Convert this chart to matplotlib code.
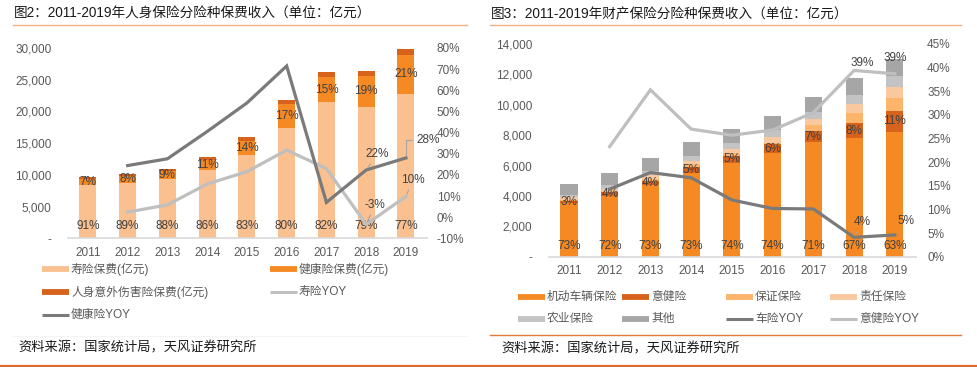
import matplotlib
matplotlib.use('Agg')
import matplotlib.pyplot as plt
from matplotlib.lines import Line2D
from matplotlib.ticker import FuncFormatter
import numpy as np

plt.rcParams['font.family'] = ['Liberation Sans', 'Noto Sans CJK SC', 'DejaVu Sans']

years = ['2011', '2012', '2013', '2014', '2015', '2016', '2017', '2018', '2019']

# 图2 人身保险（亿元）
life_prem = [8400, 8750, 9400, 10800, 13200, 17400, 21430, 20700, 22750]
health_prem = [950, 1100, 1250, 1620, 2170, 3760, 4040, 4930, 6200]
accident_prem = [390, 250, 250, 420, 630, 630, 730, 790, 840]
life_share = ['91%', '89%', '88%', '86%', '83%', '80%', '82%', '79%', '77%']
health_share = ['7%', '8%', '9%', '11%', '14%', '17%', '15%', '19%', '21%']
# YOY 从2012开始（%）
life_yoy = [2.4, 5.8, 15.7, 21.5, 31.7, 23.0, -3.4, 9.8]
health_yoy = [24.4, 27.6, 40.5, 54.0, 71.5, 7.0, 22.3, 28.0]

# 图3 财产保险（亿元）
motor = [3504, 4005, 4720, 5516, 6199, 6834, 7521, 7834, 8188]
acc_health = [143, 221, 259, 377, 421, 556, 738, 940, 1432]
guarantee = [100, 80, 150, 180, 200, 120, 380, 660, 830]
liability = [150, 150, 220, 250, 300, 380, 420, 610, 750]
agri = [174, 240, 307, 326, 375, 418, 479, 572, 672]
other = [708, 834, 825, 895, 928, 958, 1003, 1140, 1144]
motor_share = ['73%', '72%', '73%', '73%', '74%', '74%', '71%', '67%', '63%']
acc_health_share = ['3%', '4%', '4%', '5%', '5%', '6%', '7%', '8%', '11%']
motor_yoy = [14.3, 17.8, 16.7, 12.0, 10.2, 10.1, 4.1, 4.6]
acc_health_yoy = [23.3, 35.3, 27.0, 25.7, 26.8, 30.5, 39.4, 38.7]

c_life = '#FAC090'
c_health = '#F58A24'
c_acc = '#D7621B'
c_lgray = '#BFBFBF'
c_dgray = '#7A7A7A'
c_guar = '#FDB46B'
c_liab = '#FAC89E'
c_agri = '#C3C3C3'
c_other = '#A6A6A6'
txt = '#404040'
tick_c = '#595959'
FS = 8.5

W, H = 978, 367
fig = plt.figure(figsize=(W / 100, H / 100), dpi=100)


def fx(px):
    return px / W


def fy(py):
    return 1 - py / H


def hline(x0, x1, y, color, lw):
    fig.add_artist(Line2D([fx(x0), fx(x1)], [fy(y), fy(y)], color=color, lw=lw,
                          transform=fig.transFigure))


def style(ax, axr):
    for a in (ax, axr):
        for s in a.spines.values():
            s.set_visible(False)
        a.tick_params(length=0, colors=tick_c, labelsize=FS)
    ax.spines['bottom'].set_visible(True)
    ax.spines['bottom'].set_color('#D9D9D9')
    ax.spines['bottom'].set_linewidth(1.2)


x = np.arange(len(years))

# ---------------- 图2 ----------------
ax1 = fig.add_axes([fx(68), fy(238.3), fx(427) - fx(68), fy(48) - fy(238.3)])
ax1.set_xlim(-0.5, 8.53)
ax1.set_ylim(0, 30000)
b1 = np.array(life_prem)
b2 = b1 + np.array(health_prem)
ax1.bar(x, life_prem, width=0.43, color=c_life)
ax1.bar(x, health_prem, width=0.43, bottom=b1, color=c_health)
ax1.bar(x, accident_prem, width=0.43, bottom=b2, color=c_acc)
ax1.set_yticks(range(0, 30001, 5000))
ax1.yaxis.set_major_formatter(FuncFormatter(lambda v, p: '-' if v == 0 else f'{v:,.0f}'))
ax1.set_xticks(x)
ax1.set_xticklabels(years)
ax1.tick_params(axis='y', pad=12)
ax1.tick_params(axis='x', pad=6)
for i in x:
    ax1.text(i, 1940, life_share[i], ha='center', va='center', fontsize=FS, color=txt)
    ax1.text(i, b1[i] + health_prem[i] / 2, health_share[i], ha='center', va='center',
             fontsize=FS, color=txt)

ax1r = ax1.twinx()
ax1r.set_ylim(-10, 80)
ax1r.set_yticks(range(-10, 81, 10))
ax1r.yaxis.set_major_formatter(FuncFormatter(lambda v, p: f'{v:.0f}%'))
ax1r.tick_params(axis='y', pad=7)
style(ax1, ax1r)
ax1r.plot(x[1:], life_yoy, color=c_lgray, lw=2.3, solid_joinstyle='miter')
ax1r.plot(x[1:], health_yoy, color=c_dgray, lw=2.3, solid_joinstyle='miter')

lead = dict(arrowstyle='-', color='#A6A6A6', lw=0.8, shrinkA=1, shrinkB=2)
ax1r.annotate(f'{health_yoy[-2]:.0f}%', xy=(7, health_yoy[-2]), xytext=(7.27, 29.9),
              ha='center', va='center', fontsize=FS, color=txt, arrowprops=lead)
ax1r.annotate(f'{health_yoy[-1]:.0f}%', xy=(8, health_yoy[-1]), xytext=(8.55, 36.5),
              ha='center', va='center', fontsize=FS, color=txt,
              arrowprops=dict(lead, connectionstyle='angle,angleA=0,angleB=90,rad=0'))
ax1r.annotate(f'{life_yoy[-1]:.0f}%', xy=(8, life_yoy[-1]), xytext=(8.17, 17.6),
              ha='center', va='center', fontsize=FS, color=txt, arrowprops=lead)
ax1r.annotate(f'{life_yoy[-2]:.0f}%', xy=(7, life_yoy[-2]), xytext=(7.22, 5.8),
              ha='center', va='center', fontsize=FS, color=txt, arrowprops=lead)

# ---------------- 图3 ----------------
ax2 = fig.add_axes([fx(549), fy(256.7), fx(916) - fx(549), fy(44) - fy(256.7)])
ax2.set_xlim(-0.49, 8.52)
ax2.set_ylim(0, 14000)
stack = [motor, acc_health, guarantee, liability, agri, other]
cols = [c_health, c_acc, c_guar, c_liab, c_agri, c_other]
bottom = np.zeros(len(years))
for vals, c in zip(stack, cols):
    ax2.bar(x, vals, width=0.42, bottom=bottom, color=c)
    bottom = bottom + np.array(vals)
ax2.set_yticks(range(0, 14001, 2000))
ax2.yaxis.set_major_formatter(FuncFormatter(lambda v, p: '-' if v == 0 else f'{v:,.0f}'))
ax2.set_xticks(x)
ax2.set_xticklabels(years)
ax2.tick_params(axis='y', pad=12)
ax2.tick_params(axis='x', pad=6)
for i in x:
    ax2.text(i, 724, motor_share[i], ha='center', va='center', fontsize=FS, color=txt)
    ax2.text(i, motor[i] + acc_health[i] / 2, acc_health_share[i], ha='center', va='center',
             fontsize=FS, color=txt)

ax2r = ax2.twinx()
ax2r.set_ylim(0, 45)
ax2r.set_yticks(range(0, 46, 5))
ax2r.yaxis.set_major_formatter(FuncFormatter(lambda v, p: f'{v:.0f}%'))
ax2r.tick_params(axis='y', pad=8)
style(ax2, ax2r)
ax2r.plot(x[1:], acc_health_yoy, color=c_lgray, lw=2.3, solid_joinstyle='miter')
ax2r.plot(x[1:], motor_yoy, color=c_dgray, lw=2.3, solid_joinstyle='miter')

ax2r.text(7.19, 40.9, f'{acc_health_yoy[-2]:.0f}%', ha='center', va='center', fontsize=FS, color=txt)
ax2r.text(8.0, 42.0, f'{acc_health_yoy[-1]:.0f}%', ha='center', va='center', fontsize=FS, color=txt)
ax2r.annotate(f'{motor_yoy[-2]:.0f}%', xy=(7, motor_yoy[-2]), xytext=(7.2, 7.4),
              ha='center', va='center', fontsize=FS, color=txt, arrowprops=lead)
ax2r.text(8.28, 7.55, f'{motor_yoy[-1]:.0f}%', ha='center', va='center', fontsize=FS, color=txt)

# ---------------- 标题、图例、来源 ----------------
fig.text(fx(14), fy(14), '图2：2011-2019年人身保险分险种保费收入（单位：亿元）',
         fontsize=9.8, color='#1A1A1A', va='center', ha='left')
fig.text(fx(491), fy(14), '图3：2011-2019年财产保险分险种保费收入（单位：亿元）',
         fontsize=9.8, color='#1A1A1A', va='center', ha='left')
hline(13, 467, 25, '#F2B07E', 1.0)
hline(490, 961, 25, '#F2B07E', 1.0)
hline(13, 467, 336, '#F4F4F4', 0.8)
hline(490, 961, 335, '#E07B39', 1.0)
hline(0, W, 366, '#E26B2A', 1.6)


def legend_item(x0, y, label, color, lw):
    fig.add_artist(Line2D([fx(x0), fx(x0 + 27)], [fy(y), fy(y)], color=color, lw=lw,
                          solid_capstyle='butt', transform=fig.transFigure))
    fig.text(fx(x0 + 29), fy(y), label, fontsize=FS, color=tick_c, va='center', ha='left')


legend_item(42, 269, '寿险保费(亿元)', c_life, 4.2)
legend_item(270, 269, '健康险保费(亿元)', c_health, 4.2)
legend_item(42, 292, '人身意外伤害险保费(亿元)', c_acc, 4.2)
legend_item(270, 292, '寿险YOY', c_lgray, 2.2)
legend_item(42, 315, '健康险YOY', c_dgray, 2.2)

legend_item(518, 297, '机动车辆保险', c_health, 4.2)
legend_item(622, 297, '意健险', c_acc, 4.2)
legend_item(726, 297, '保证保险', c_guar, 4.2)
legend_item(830, 297, '责任保险', c_liab, 4.2)
legend_item(518, 319, '农业保险', c_agri, 4.2)
legend_item(622, 319, '其他', c_other, 4.2)
legend_item(726, 319, '车险YOY', c_dgray, 2.2)
legend_item(830, 319, '意健险YOY', c_lgray, 2.2)

fig.text(fx(18), fy(348), '资料来源：国家统计局，天风证券研究所', fontsize=9.5,
         color='#1A1A1A', va='center', ha='left')
fig.text(fx(501), fy(349), '资料来源：国家统计局，天风证券研究所', fontsize=9.5,
         color='#1A1A1A', va='center', ha='left')

fig.savefig('out.png', dpi=100)
